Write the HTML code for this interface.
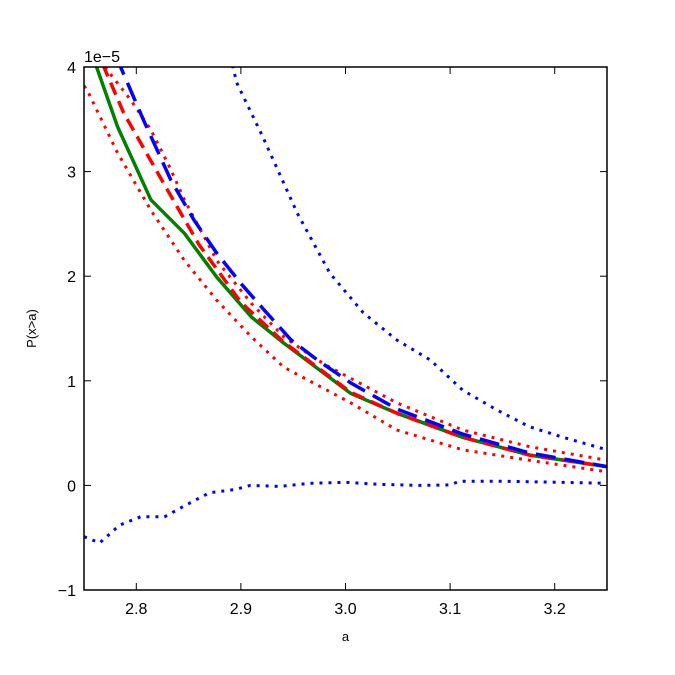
<!DOCTYPE html>
<html><head><meta charset="utf-8"><style>
body{margin:0;background:#fff}
svg{display:block;font-family:"Liberation Sans","DejaVu Sans",sans-serif}
</style></head><body>
<svg id="c" width="675" height="675"></svg>
<script>
const xTicks=[2.8,2.9,3.0,3.1,3.2];
const xTickLabels=["2.8","2.9","3.0","3.1","3.2"];
const yTicks=[-1,0,1,2,3,4];
const yTickLabels=["\u22121","0","1","2","3","4"];
const greenX=[2.75,2.762,2.782,2.814,2.846,2.877,2.91,2.941,3.005,3.049,3.112,3.176,3.25];
const greenY=[4.25,4.0,3.43,2.73,2.41,1.99,1.61,1.36,0.88,0.69,0.46,0.29,0.18];
const redDashX=[2.76,2.769,2.788,2.826,2.86,2.9,2.941,3.005,3.049,3.112,3.176,3.25];
const redDashY=[4.2,4.0,3.56,2.89,2.3,1.75,1.37,0.89,0.69,0.46,0.29,0.18];
const blueDashX=[2.78,2.785,2.807,2.833,2.855,2.877,2.9,2.922,2.948,2.973,3.005,3.049,3.112,3.176,3.25];
const blueDashY=[4.1,4.0,3.49,2.92,2.54,2.22,1.93,1.68,1.39,1.2,0.98,0.73,0.49,0.31,0.18];
const redUpX=[2.77,2.795,2.814,2.833,2.846,2.877,2.91,2.941,2.973,2.985,3.049,3.112,3.176,3.25];
const redUpY=[4.0,3.68,3.4,3.02,2.73,2.15,1.74,1.42,1.2,1.13,0.79,0.53,0.37,0.24];
const redLoX=[2.75,2.753,2.782,2.814,2.846,2.877,2.91,2.941,3.005,3.049,3.112,3.176,3.25];
const redLoY=[3.82,3.78,3.18,2.63,2.15,1.77,1.42,1.13,0.79,0.53,0.34,0.24,0.13];
const blueUpX=[2.89,2.896,2.921,2.954,2.985,3.017,3.049,3.081,3.112,3.145,3.176,3.208,3.25];
const blueUpY=[4.1,3.85,3.33,2.6,2.03,1.65,1.39,1.2,0.91,0.72,0.56,0.46,0.34];
const blueLoX=[2.75,2.765,2.784,2.804,2.827,2.847,2.87,2.894,2.909,2.937,2.966,3.0,3.033,3.071,3.1,3.109,3.148,3.205,3.25];
const blueLoY=[-0.49,-0.55,-0.38,-0.3,-0.3,-0.19,-0.07,-0.04,0,-0.01,0.02,0.03,0.01,0,0.005,0.04,0.04,0.03,0.02];

const L=84,R=607,T=67,B=590,x0=2.75,x1=3.25,y0=-1,y1=4;
const sx=v=>L+(v-x0)/(x1-x0)*(R-L);
const sy=v=>B-(v-y0)/(y1-y0)*(B-T);
const NS="http://www.w3.org/2000/svg";
const svg=document.getElementById('c');
function mk(t,a,p){const e=document.createElementNS(NS,t);for(const k in a)e.setAttribute(k,a[k]);(p||svg).appendChild(e);return e;}
const defs=mk('defs',{});
const cp=mk('clipPath',{id:'clip'},defs);
mk('rect',{x:L,y:T,width:R-L,height:B-T},cp);
const g=mk('g',{'clip-path':'url(#clip)'});


function series(xs,ys,color,w,dash,name){
  let d='';xs.forEach((x,i)=>{d+=(i?'L':'M')+sx(x).toFixed(1)+' '+sy(ys[i]).toFixed(1);});
  const p=mk('path',{d:d,fill:'none',stroke:color,'stroke-width':w,'stroke-dasharray':dash,'stroke-linejoin':'round'},g);
  
  
}
series(redUpX,redUpY,'#ff0000',3,'3 6','red-dotted-upper');
series(redLoX,redLoY,'#ff0000',3,'3 6','red-dotted-lower');
series(blueUpX,blueUpY,'#0000ff',3,'3 6','blue-dotted-upper');
series(blueLoX,blueLoY,'#0000ff',3,'3 6','blue-dotted-lower');
series(greenX,greenY,'#008000',3.5,'none','green-solid-line');
series(redDashX,redDashY,'#ff0000',3.5,'13 7','red-dashed-line');
series(blueDashX,blueDashY,'#0000ff',3.5,'20 9','blue-dashed-line');
const fr=mk('rect',{x:L,y:T,width:R-L,height:B-T,fill:'none',stroke:'#000','stroke-width':1.5});


xTicks.forEach((v,i)=>{
  const x=sx(v);
  mk('line',{x1:x,x2:x,y1:B,y2:B-7,stroke:'#000'});
  mk('line',{x1:x,x2:x,y1:T,y2:T+7,stroke:'#000'});
  const t=mk('text',{x:x,y:B+24,'text-anchor':'middle','font-size':16});
  t.textContent=xTickLabels[i];
  
  
});
yTicks.forEach((v,i)=>{
  const y=sy(v);
  mk('line',{x1:L,x2:L+7,y1:y,y2:y,stroke:'#000'});
  mk('line',{x1:R,x2:R-7,y1:y,y2:y,stroke:'#000'});
  const t=mk('text',{x:L-8,y:y+6,'text-anchor':'end','font-size':16});
  t.textContent=yTickLabels[i];
  
  
});
const off=mk('text',{x:L,y:T-5,'font-size':16});off.textContent='1e\u22125';


const xl=mk('text',{x:(L+R)/2,y:641,'text-anchor':'middle','font-size':13});xl.textContent='a';


const yl=mk('text',{x:0,y:0,'text-anchor':'middle','font-size':13,transform:'translate(36 '+((T+B)/2)+') rotate(-90)'});yl.textContent='P(x>a)';


</script>
</body></html>
